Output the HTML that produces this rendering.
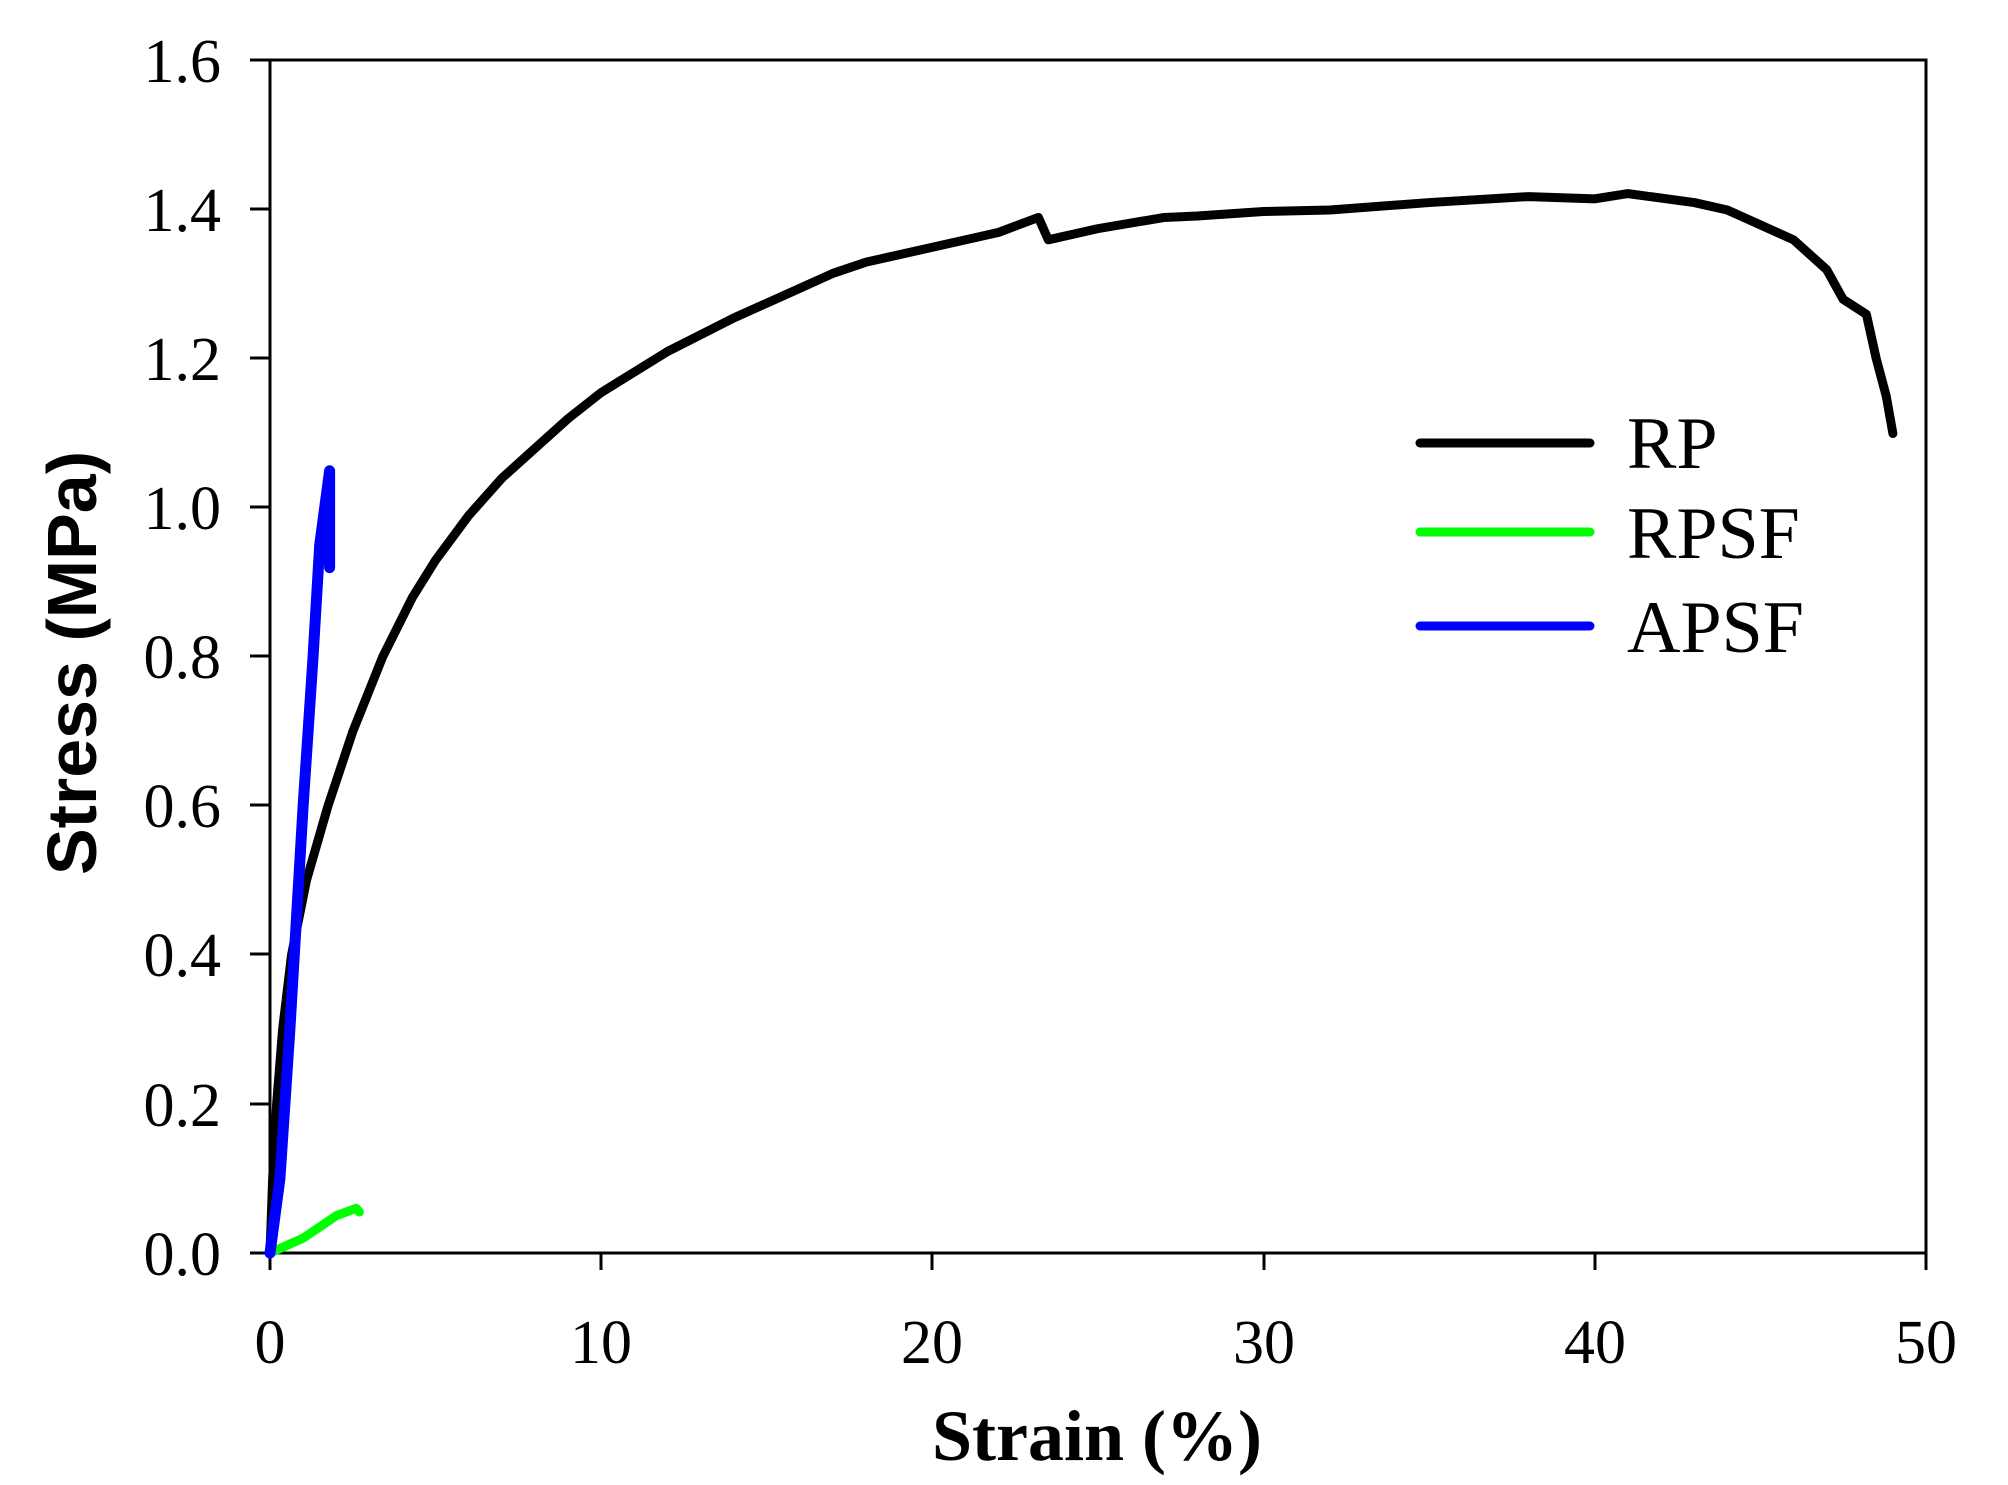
<!DOCTYPE html>
<html><head><meta charset="utf-8"><style>body{margin:0;background:#fff}</style></head>
<body>
<svg width="2008" height="1480" viewBox="0 0 2008 1480" xmlns="http://www.w3.org/2000/svg">
<g stroke="#000" stroke-width="3" fill="none">
<rect x="270" y="60" width="1656" height="1193"/>
<path d="M250 60H270M250 209H270M250 358H270M250 507H270M250 656H270M250 805H270M250 954H270M250 1104H270M250 1253H270"/>
<path d="M270 1253V1270M601 1253V1270M932 1253V1270M1264 1253V1270M1595 1253V1270M1926 1253V1270"/>
</g>
<g font-family="Liberation Serif, serif" font-size="62" text-anchor="end" fill="#000">
<text x="221" y="82">1.6</text><text x="221" y="231">1.4</text><text x="221" y="380">1.2</text><text x="221" y="529">1.0</text><text x="221" y="678">0.8</text><text x="221" y="827">0.6</text><text x="221" y="976">0.4</text><text x="221" y="1126">0.2</text><text x="221" y="1275">0.0</text>
</g>
<g font-family="Liberation Serif, serif" font-size="62" text-anchor="middle" fill="#000">
<text x="270" y="1363">0</text><text x="601" y="1363">10</text><text x="932" y="1363">20</text><text x="1264" y="1363">30</text><text x="1595" y="1363">40</text><text x="1926" y="1363">50</text>
</g>
<text x="1097" y="1460" font-family="Liberation Serif, serif" font-weight="bold" font-size="72" text-anchor="middle">Strain (%)</text>
<text transform="translate(96,663) rotate(-90)" font-family="Liberation Sans, sans-serif" font-weight="bold" font-size="70" text-anchor="middle">Stress (MPa)</text>
<g transform="translate(270,1253) scale(33.12,-745)" fill="none" stroke-linejoin="round" stroke-linecap="round">
<polyline vector-effect="non-scaling-stroke" stroke="#000" stroke-width="9" points="0,0 0.08,0.1 0.2,0.2 0.38,0.3 0.65,0.4 1.1,0.5 1.75,0.6 2.5,0.7 3.4,0.8 4.3,0.88 5,0.93 6,0.99 7,1.04 8,1.08 9,1.12 10,1.155 12,1.21 14,1.255 16,1.295 17,1.315 18,1.33 20,1.35 22,1.37 23.2,1.39 23.5,1.36 25,1.375 27,1.39 28,1.392 30,1.398 32,1.4 35,1.41 38,1.418 40,1.415 41,1.422 43,1.41 44,1.4 45,1.38 46,1.36 47,1.32 47.5,1.28 48.2,1.26 48.5,1.2 48.8,1.15 49,1.1"/>
<polyline vector-effect="non-scaling-stroke" stroke="#00ff00" stroke-width="9" points="0,0 1,0.02 2,0.05 2.6,0.06 2.7,0.055"/>
<polyline vector-effect="non-scaling-stroke" stroke="#0000ff" stroke-width="11" points="0,0 0.3,0.1 0.6,0.3 1,0.6 1.3,0.8 1.5,0.95 1.8,1.05 1.8,0.92"/>
</g>
<g stroke-width="9" stroke-linecap="round">
<line x1="1420" y1="443" x2="1590" y2="443" stroke="#000"/>
<line x1="1420" y1="532" x2="1590" y2="532" stroke="#00ff00"/>
<line x1="1420" y1="626" x2="1590" y2="626" stroke="#0000ff"/>
</g>
<g font-family="Liberation Serif, serif" font-size="74" fill="#000">
<text x="1627" y="468">RP</text><text x="1627" y="558">RPSF</text><text x="1627" y="652">APSF</text>
</g>
</svg>
</body></html>
